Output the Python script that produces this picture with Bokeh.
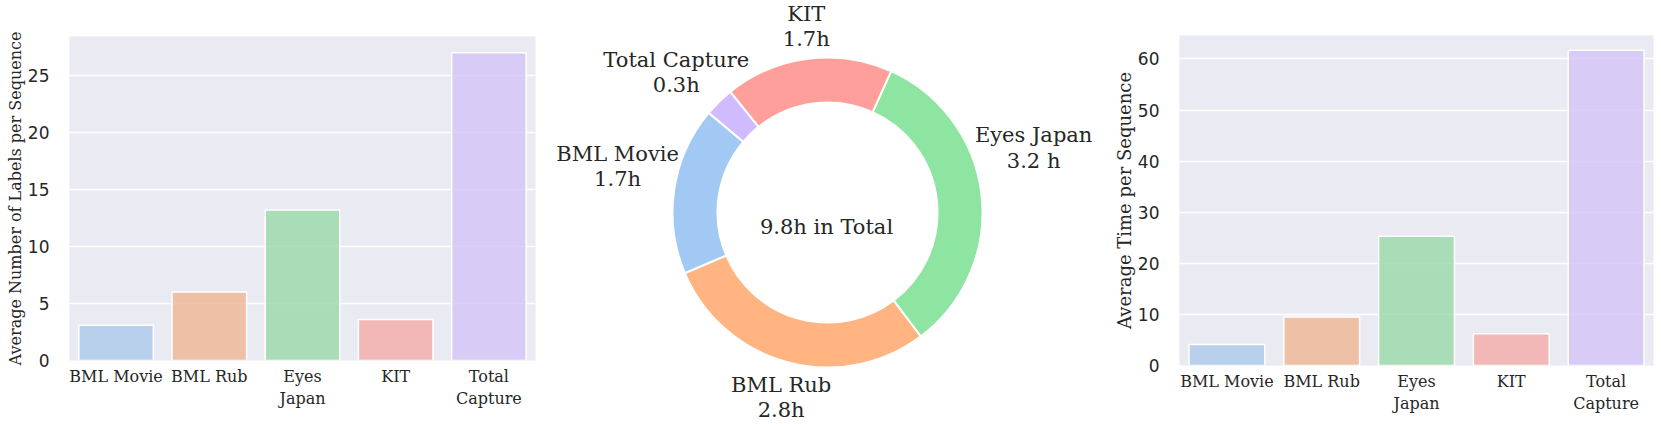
import colorsys
import numpy as np
from bokeh.plotting import figure
from bokeh.layouts import row, column
from bokeh.models import FixedTicker, ColumnDataSource, Range1d
from bokeh.core.properties import value
from bokeh.embed import file_html
from bokeh.resources import INLINE

# ---------------- data ----------------
categories = ["BML Movie", "BML Rub", "Eyes Japan", "KIT", "Total Capture"]
tick_labels = ["BML Movie", "BML Rub", "Eyes\nJapan", "KIT", "Total\nCapture"]
avg_labels_per_seq = [3.1, 6.0, 13.2, 3.6, 27.0]
avg_time_per_seq = [4.1, 9.5, 25.3, 6.2, 61.7]
hours = [1.7, 2.8, 3.2, 1.7, 0.3]
hour_texts = ["1.7h", "2.8h", "3.2 h", "1.7h", "0.3h"]
pie_names = ["BML Movie", "BML Rub", "Eyes Japan", "KIT", "Total Capture"]
total_text = "9.8h in Total"
ylabel_left = "Average Number of Labels per Sequence"
ylabel_right = "Average Time per Sequence"
palette = ["#a1c9f4", "#ffb482", "#8de5a1", "#ff9f9b", "#d0bbff"]

# ---------------- style ----------------
BG = "#EAEAF2"
INK = "#262626"
SERIF = "DejaVu Serif"
SANS = "DejaVu Sans"


def desaturate(hex_color, prop):
    h = hex_color.lstrip("#")
    r, g, b = (int(h[i:i + 2], 16) / 255 for i in (0, 2, 4))
    hh, l, s = colorsys.rgb_to_hls(r, g, b)
    r, g, b = colorsys.hls_to_rgb(hh, l, s * prop)
    return "#%02x%02x%02x" % tuple(int(round(c * 255)) for c in (r, g, b))


bar_colors = [desaturate(c, 0.75) for c in palette]


def bar_figure(values, ymax, ticks, ylabel, fw, fh, bl, br, bt, bb, ylabel_size, label_standoff):
    p = figure(frame_width=fw, frame_height=fh, x_range=Range1d(-0.5, 4.5), y_range=Range1d(0, ymax),
               output_backend="svg", toolbar_location=None, title=None,
               min_border_left=bl, min_border_right=br, min_border_top=bt, min_border_bottom=bb)
    p.background_fill_color = BG
    p.border_fill_color = "white"
    p.outline_line_color = None
    src = ColumnDataSource(dict(x=list(range(len(values))), top=values, color=bar_colors))
    p.vbar(x="x", top="top", bottom=0, width=0.8, source=src, fill_color="color", fill_alpha=0.8,
           line_color="white", line_width=1.5)
    p.xgrid.visible = False
    p.ygrid.grid_line_color = "white"
    p.ygrid.grid_line_width = 1.3
    p.ygrid.ticker = FixedTicker(ticks=ticks)
    p.yaxis.ticker = FixedTicker(ticks=ticks)
    p.xaxis.ticker = FixedTicker(ticks=list(range(len(values))))
    p.xaxis.major_label_overrides = {i: t for i, t in enumerate(tick_labels)}
    for ax in (p.xaxis, p.yaxis):
        ax.axis_line_color = None
        ax.major_tick_line_color = None
        ax.minor_tick_line_color = None
        ax.major_tick_out = 0
        ax.major_tick_in = 0
        ax.minor_tick_out = 0
        ax.minor_tick_in = 0
    p.xaxis.major_label_text_font = SERIF
    p.xaxis.major_label_text_font_size = "16px"
    p.xaxis.major_label_text_color = INK
    p.xaxis.major_label_standoff = 6
    p.yaxis.major_label_text_font = SANS
    p.yaxis.major_label_text_font_size = "17px"
    p.yaxis.major_label_text_color = INK
    p.yaxis.major_label_standoff = 20
    p.yaxis.axis_label = ylabel
    p.yaxis.axis_label_text_font = SERIF
    p.yaxis.axis_label_text_font_style = "normal"
    p.yaxis.axis_label_text_font_size = ylabel_size
    p.yaxis.axis_label_text_color = INK
    p.yaxis.axis_label_standoff = label_standoff
    return p


p1 = bar_figure(avg_labels_per_seq, 28.42, [0, 5, 10, 15, 20, 25], ylabel_left,
                466, 324, 69, 10, 36, 64, "16px", 0)
p3 = bar_figure(avg_time_per_seq, 64.6, [0, 10, 20, 30, 40, 50, 60], ylabel_right,
                474, 330, 79, 8, 35, 59, "18px", 0)

# ---------------- donut ----------------
W2, H2 = 555, 424
cx_off, cy_off = 282, 212  # donut centre, measured from the panel's left / top edge (pixels)
p2 = figure(frame_width=W2, frame_height=H2, x_range=Range1d(-cx_off, W2 - cx_off),
            y_range=Range1d(cy_off - H2, cy_off), title=None,
            output_backend="svg", toolbar_location=None, x_axis_location=None, y_axis_location=None,
            min_border=0)
p2.outline_line_color = None
p2.grid.visible = False
p2.background_fill_color = "white"
p2.border_fill_color = "white"

R_OUT, R_IN = 155, 110
start_deg = 140.0
frac = np.array(hours) / np.sum(hours)
starts = np.deg2rad(start_deg) + 2 * np.pi * np.concatenate([[0], np.cumsum(frac)[:-1]])
ends = starts + 2 * np.pi * frac
p2.annular_wedge(x=0, y=0, inner_radius=R_IN, outer_radius=R_OUT, start_angle=list(starts),
                 end_angle=list(ends), fill_color=palette, line_color="white", line_width=2)

# label placement: radial distance (px) and angular nudge (deg) relative to each wedge mid-angle
label_dist = [215, 191, 216, 187, 206]
label_nudge = [-4.0, 0.9, 11.0, -0.8, 2.8]
mids = (starts + ends) / 2 + np.deg2rad(label_nudge)
lx = list(np.array(label_dist) * np.cos(mids))
ly = list(np.array(label_dist) * np.sin(mids))
texts = [f"{n}\n{h}" for n, h in zip(pie_names, hour_texts)]
p2.text(x=lx, y=ly, text=texts, text_align="center", text_baseline="middle",
        text_font=value(SERIF), text_font_size="21px", text_line_height=1.05, text_color=INK)
p2.text(x=[-1], y=[-14], text=[total_text], text_align="center", text_baseline="middle",
        text_font=value(SERIF), text_font_size="21px", text_color=INK)

layout = row(column(p1), column(p2), column(p3), spacing=0)
open("out.html", "w").write(file_html(layout, INLINE))
